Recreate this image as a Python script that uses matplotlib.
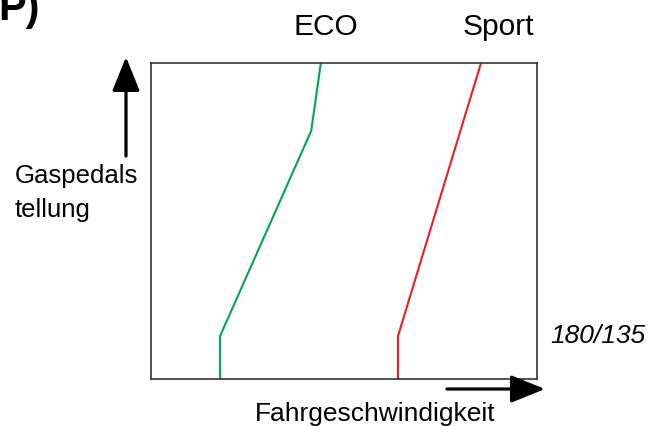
import matplotlib
matplotlib.use("Agg")
import matplotlib.pyplot as plt

plt.rcParams['font.family'] = ['Liberation Sans', 'DejaVu Sans']

# shift curves: speed (x, % of box) vs. pedal position (y, % of box)
eco_speed = [17.9, 17.9, 41.5, 44.0]
eco_pedal = [0.0, 13.6, 78.5, 100.0]
sport_speed = [64.0, 64.0, 85.5]
sport_pedal = [0.0, 13.6, 100.0]

W, H = 648, 426


def fp(x, y):
    # pixel position (from top-left) -> figure fraction
    return (x / W, 1 - y / H)


fig = plt.figure(figsize=(6.48, 4.26), dpi=100)
ax = fig.add_axes([151 / W, 47 / H, 386 / W, 316 / H])
ax.plot(eco_speed, eco_pedal, color='#00a651', lw=1.5)
ax.plot(sport_speed, sport_pedal, color='#ed1c24', lw=1.5)
ax.set_xlim(0, 100)
ax.set_ylim(0, 100)
ax.set_xticks([])
ax.set_yticks([])
for s in ax.spines.values():
    s.set_color('#333333')
    s.set_linewidth(1.2)

# labels
fig.text(*fp(-2, 20), 'P)', fontsize=30, fontweight='bold', ha='left', va='baseline')
fig.text(*fp(326, 35), 'ECO', fontsize=21.5, ha='center', va='baseline')
fig.text(*fp(498, 35), 'Sport', fontsize=21.5, ha='center', va='baseline')
fig.text(*fp(15, 183), 'Gaspedals', fontsize=18.5, ha='left', va='baseline')
fig.text(*fp(15, 217), 'tellung', fontsize=18.5, ha='left', va='baseline')
fig.text(*fp(375, 421), 'Fahrgeschwindigkeit', fontsize=19, ha='center', va='baseline')
fig.text(*fp(645, 343), '180/135', fontsize=19, style='italic', ha='right', va='baseline')

# axis arrows
arrow = dict(arrowstyle='-|>,head_length=2.1,head_width=0.85', lw=2.3, color='black',
             mutation_scale=10, shrinkA=0, shrinkB=0)
ax.annotate('', xy=fp(126, 57), xytext=fp(126, 156), xycoords='figure fraction',
            textcoords='figure fraction', arrowprops=arrow)
ax.annotate('', xy=fp(545, 389), xytext=fp(447, 389), xycoords='figure fraction',
            textcoords='figure fraction', arrowprops=arrow)

fig.savefig('out.png', dpi=100)
